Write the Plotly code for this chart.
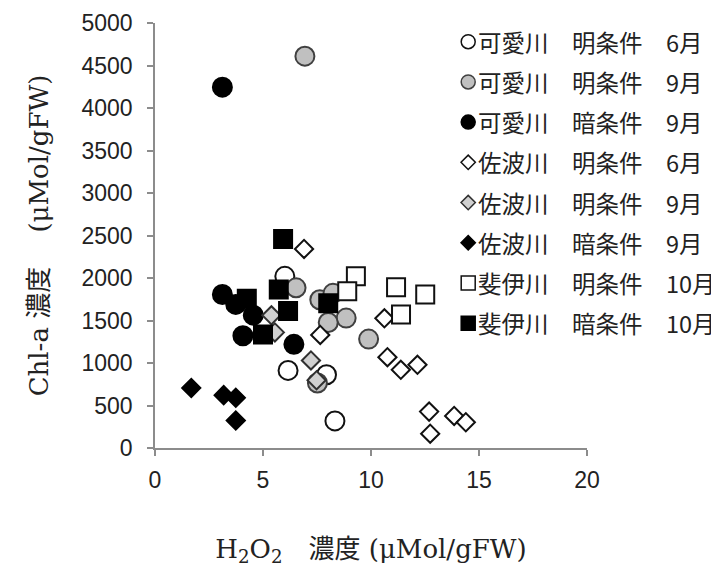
import plotly.graph_objects as go

# 可愛川 明条件 6月 (open circle)
ka_l6_x = [6.01, 6.16, 7.94, 8.33]
ka_l6_y = [2020, 913, 862, 319]
# 可愛川 明条件 9月 (gray circle)
ka_l9_x = [6.94, 6.53, 7.63, 8.24, 8.85, 8.02, 9.89, 7.52]
ka_l9_y = [4610, 1884, 1744, 1820, 1528, 1476, 1281, 765]
# 可愛川 暗条件 9月 (black circle)
ka_d9_x = [3.12, 3.12, 3.74, 4.55, 4.07, 6.43]
ka_d9_y = [4245, 1806, 1689, 1563, 1321, 1220]
# 佐波川 明条件 6月 (open diamond)
sa_l6_x = [6.90, 7.65, 10.62, 10.76, 11.38, 12.15, 12.69, 12.74, 13.85, 14.39]
sa_l6_y = [2342, 1330, 1526, 1068, 920, 979, 428, 168, 377, 303]
# 佐波川 明条件 9月 (gray diamond)
sa_l9_x = [5.39, 5.55, 7.22, 7.48]
sa_l9_y = [1561, 1360, 1030, 797]
# 佐波川 暗条件 9月 (black diamond)
sa_d9_x = [1.68, 3.18, 3.74, 3.74]
sa_d9_y = [707, 622, 591, 323]
# 斐伊川 明条件 10月 (open square)
hi_l10_x = [9.30, 8.90, 11.16, 12.51, 11.39]
hi_l10_y = [2020, 1845, 1892, 1806, 1570]
# 斐伊川 暗条件 10月 (black square)
hi_d10_x = [5.93, 5.73, 4.25, 6.16, 5.00, 8.02]
hi_d10_y = [2458, 1864, 1756, 1612, 1336, 1703]

names = [
    "可愛川　明条件　6月",
    "可愛川　明条件　9月",
    "可愛川　暗条件　9月",
    "佐波川　明条件　6月",
    "佐波川　明条件　9月",
    "佐波川　暗条件　9月",
    "斐伊川　明条件　10月",
    "斐伊川　暗条件　10月",
]

x_ticks = [0, 5, 10, 15, 20]
y_ticks = list(range(0, 5001, 500))

series = [
    (ka_l6_x, ka_l6_y, "circle", 19, "white", "#111111"),
    (ka_l9_x, ka_l9_y, "circle", 19, "#c0c0c0", "#404040"),
    (ka_d9_x, ka_d9_y, "circle", 19, "black", "black"),
    (sa_l6_x, sa_l6_y, "diamond", 14, "white", "#111111"),
    (sa_l9_x, sa_l9_y, "diamond", 14, "#d0d0d0", "#303030"),
    (sa_d9_x, sa_d9_y, "diamond", 14, "black", "black"),
    (hi_l10_x, hi_l10_y, "square", 18, "white", "#111111"),
    (hi_d10_x, hi_d10_y, "square", 18, "black", "black"),
]

# legend key layout (in data units of the chart's own axes)
LEG_KEY_X = 14.50
LEG_TEXT_X = 14.85
LEG_TOP = 4780
LEG_STEP = 473
legend_sizes = {"circle": 14, "diamond": 11, "square": 14}

fig = go.Figure()
for i, ((xs, ys, sym, sz, fill, line), nm) in enumerate(zip(series, names)):
    fig.add_trace(go.Scatter(
        x=xs, y=ys, mode="markers", name=nm, showlegend=False,
        marker=dict(symbol=sym, size=sz, color=fill,
                    line=dict(color=line, width=2)),
    ))

# custom legend: keys drawn as markers, labels as text
for i, ((xs, ys, sym, sz, fill, line), nm) in enumerate(zip(series, names)):
    ky = LEG_TOP - LEG_STEP * i
    fig.add_trace(go.Scatter(
        x=[LEG_KEY_X], y=[ky], mode="markers", showlegend=False,
        hoverinfo="skip", cliponaxis=False,
        marker=dict(symbol=sym, size=legend_sizes[sym], color=fill,
                    line=dict(color=line, width=1.5)),
    ))
    fig.add_annotation(
        x=LEG_TEXT_X, y=ky, xref="x", yref="y", text=nm, showarrow=False,
        xanchor="left", yanchor="middle",
        font=dict(family="Noto Sans CJK JP", size=23.5, color="#222222"),
    )

axis_common = dict(
    showline=True, linecolor="#8c8c8c", linewidth=1.5,
    ticks="outside", tickcolor="#8c8c8c", ticklen=6, tickwidth=1.5,
    showgrid=False, zeroline=False, automargin=False,
    ticklabeloverflow="allow",
    tickfont=dict(family="Liberation Sans, Arial", size=23, color="#222222"),
)

fig.update_layout(
    width=711, height=559,
    margin=dict(l=147, r=132, t=15, b=119),
    paper_bgcolor="white", plot_bgcolor="white",
    showlegend=False,
    xaxis=dict(
        range=[0, 20], tickvals=x_ticks, ticklabelstandoff=5, **axis_common,
        title=dict(text="H<sub>2</sub>O<sub>2</sub>　濃度 (μMol/gFW)", standoff=47,
                   font=dict(family="DejaVu Serif, Noto Sans CJK JP", size=26, color="#222222")),
    ),
    yaxis=dict(
        range=[0, 5000], tickvals=y_ticks, ticklabelstandoff=10, **axis_common,
        title=dict(text="Chl-a 濃度\u3000\u00a0(μMol/gFW)", standoff=25,
                   font=dict(family="DejaVu Serif, Noto Sans CJK JP", size=26, color="#222222")),
    ),
)

fig.write_html("out.html")
